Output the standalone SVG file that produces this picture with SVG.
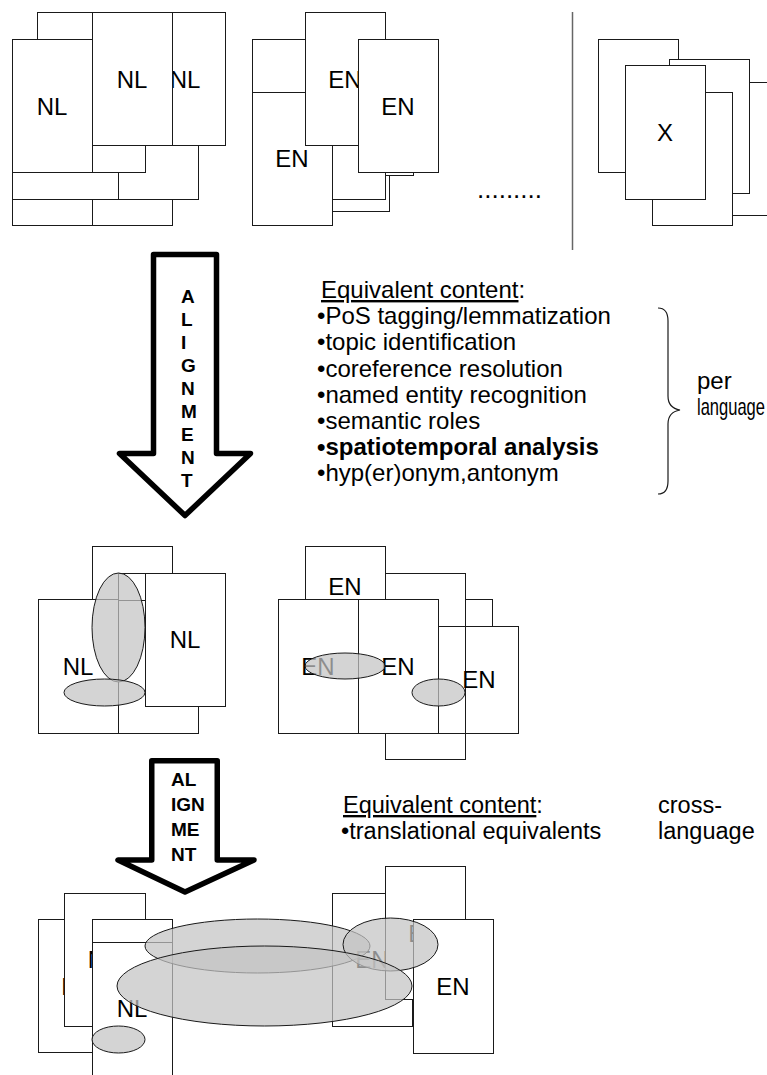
<svg xmlns="http://www.w3.org/2000/svg" width="767" height="1075" viewBox="0 0 767 1075">
<style>
.pg{fill:#fff;stroke:#1a1a1a;stroke-width:1}
.pn{fill:none;stroke:#1a1a1a;stroke-width:1}
.el{fill:#c4c4c4;fill-opacity:0.72;stroke:#1a1a1a;stroke-width:1}
.lb{font-family:"Liberation Sans",Arial,sans-serif;font-size:24px;text-anchor:middle;fill:#000}
.tx{font-family:"Liberation Sans",Arial,sans-serif;font-size:24px;fill:#000}
.ar{fill:#fff;stroke:#000;stroke-width:5.5;stroke-linejoin:round}
.al{font-family:"Liberation Sans",Arial,sans-serif;font-size:19px;font-weight:bold;fill:#000}
</style>
<rect width="767" height="1075" fill="#fff"/>

<g id="nl-stack-top">
<rect class="pg" x="12.5" y="92.5" width="80" height="133"/>
<rect class="pg" x="92.5" y="92.5" width="80" height="133"/>
<rect class="pg" x="12.5" y="66.5" width="106" height="133"/>
<rect class="pg" x="118.5" y="66.5" width="80" height="133"/>
<rect class="pg" x="37.5" y="12.5" width="80" height="133"/>
<rect class="pg" x="65.5" y="39.5" width="80" height="133"/>
<rect class="pg" x="145.5" y="12.5" width="80" height="133"/>
<text class="lb" x="185" y="88">NL</text>
<rect class="pg" x="12.5" y="39.5" width="80" height="133"/>
<text class="lb" x="52" y="115">NL</text>
<rect class="pg" x="92.5" y="12.5" width="80" height="133"/>
<text class="lb" x="132" y="88">NL</text>
</g>

<g id="en-stack-top">
<rect class="pg" x="309.5" y="78.5" width="80" height="133"/>
<rect class="pg" x="333.5" y="42.5" width="80" height="133"/>
<rect class="pg" x="305.5" y="66.5" width="80" height="133"/>
<rect class="pg" x="252.5" y="39.5" width="80" height="133"/>
<rect class="pg" x="252.5" y="92.5" width="80" height="133"/>
<text class="lb" x="292" y="167">EN</text>
<rect class="pg" x="305.5" y="12.5" width="80" height="133"/>
<text class="lb" x="345" y="88">EN</text>
<rect class="pg" x="358.5" y="39.5" width="80" height="133"/>
<text class="lb" x="398" y="115">EN</text>
</g>

<g id="ellipsis">
<text class="tx" x="477" y="198" style="font-size:26px">.........</text>
</g>

<g id="separator">
<line x1="572.5" y1="12" x2="572.5" y2="250" stroke="#666" stroke-width="1.5"/>
</g>

<g id="x-stack-top">
<rect class="pg" x="598.5" y="39.5" width="80" height="133"/>
<rect class="pg" x="709.5" y="82.5" width="80" height="133"/>
<rect class="pg" x="669.5" y="59.5" width="80" height="134"/>
<rect class="pg" x="652.5" y="92.5" width="80" height="133"/>
<rect class="pg" x="625.5" y="65.5" width="80" height="134"/>
<text class="lb" x="665" y="141">X</text>
</g>

<g id="arrow-1">
<path class="ar" d="M153.5,254.5 H216.5 V453.5 H250.5 L185,515.5 L119.5,453.5 H153.5 Z"/>
<text class="al" x="181" y="303">A</text>
<text class="al" x="181" y="326">L</text>
<text class="al" x="181" y="349">I</text>
<text class="al" x="181" y="372">G</text>
<text class="al" x="181" y="395">N</text>
<text class="al" x="181" y="418">M</text>
<text class="al" x="181" y="441">E</text>
<text class="al" x="181" y="464">N</text>
<text class="al" x="181" y="487">T</text>
</g>

<g id="content-per-language">
<text class="tx" x="321" y="298"><tspan style="text-decoration:underline">Equivalent content</tspan>:</text>
<text class="tx" x="317" y="324">•PoS tagging/lemmatization</text>
<text class="tx" x="317" y="350">•topic identification</text>
<text class="tx" x="317" y="377">•coreference resolution</text>
<text class="tx" x="317" y="403">•named entity recognition</text>
<text class="tx" x="317" y="429">•semantic roles</text>
<text class="tx" x="317" y="455" font-weight="bold">•spatiotemporal analysis</text>
<text class="tx" x="317" y="481">•hyp(er)onym,antonym</text>
<path d="M658,308 Q668,308 668,321 L668,396 Q668,408 680,410 Q668,412 668,424 L668,481 Q668,494 658,494" fill="none" stroke="#1a1a1a" stroke-width="1.2"/>
<text class="tx" x="697" y="389">per</text>
<text class="tx" x="697" y="415" textLength="68" lengthAdjust="spacingAndGlyphs">language</text>
</g>

<g id="nl-stack-mid">
<rect class="pg" x="92.5" y="546.5" width="80" height="133"/>
<rect class="pg" x="118.5" y="573.5" width="80" height="133"/>
<rect class="pg" x="118.5" y="600.5" width="80" height="133"/>
<rect class="pg" x="145.5" y="573.5" width="80" height="133"/>
<text class="lb" x="185" y="648">NL</text>
<rect class="pg" x="38.5" y="599.5" width="80" height="134"/>
<text class="lb" x="78" y="675">NL</text>
<ellipse class="el" cx="118.5" cy="627.5" rx="26.5" ry="54.5"/>
<ellipse class="el" cx="104.5" cy="692.5" rx="40.5" ry="13.5"/>
</g>

<g id="en-stack-mid">
<rect class="pg" x="305.5" y="546.5" width="80" height="133"/>
<text class="lb" x="345" y="595">EN</text>
<rect class="pg" x="412.5" y="599.5" width="80" height="27"/>
<rect class="pg" x="385.5" y="573.5" width="80" height="186"/>
<rect class="pn" x="438.5" y="626.5" width="80" height="107"/>
<text class="lb" x="479" y="688">EN</text>
<rect class="pg" x="278.5" y="599.5" width="80" height="134"/>
<text class="lb" x="318" y="675">EN</text>
<rect class="pg" x="358.5" y="599.5" width="80" height="134"/>
<text class="lb" x="398" y="675">EN</text>
<ellipse class="el" cx="345" cy="666" rx="40" ry="13"/>
<ellipse class="el" cx="438.5" cy="692.5" rx="26.5" ry="13.5"/>
</g>

<g id="arrow-2">
<path class="ar" d="M151.75,760.75 H217.25 V860 H254 L185,892 L118,860 H151.75 Z"/>
<text class="al" x="171" y="786">AL</text>
<text class="al" x="171" y="811">IGN</text>
<text class="al" x="171" y="836">ME</text>
<text class="al" x="171" y="861">NT</text>
</g>

<g id="content-cross-language">
<text class="tx" x="343" y="813" style="font-size:23.5px"><tspan style="text-decoration:underline">Equivalent content</tspan>:</text>
<text class="tx" x="341" y="839" style="font-size:23.5px">•translational equivalents</text>
<text class="tx" x="658" y="813" style="font-size:23.5px">cross-</text>
<text class="tx" x="658" y="839" style="font-size:23.5px">language</text>
</g>

<g id="nl-stack-bottom">
<rect class="pg" x="38.5" y="919.5" width="80" height="133"/>
<text class="lb" x="76.5" y="995">NL</text>
<rect class="pg" x="64.5" y="893.5" width="81" height="133"/>
<text class="lb" x="103" y="968">NL</text>
<rect class="pg" x="92.5" y="919.5" width="80" height="133"/>
<rect class="pg" x="92.5" y="942.5" width="80" height="133"/>
<text class="lb" x="132" y="1017">NL</text>
<ellipse class="el" cx="118.5" cy="1039.5" rx="26.5" ry="13.5"/>
</g>

<g id="en-stack-bottom">
<rect class="pg" x="332.5" y="893.5" width="80" height="133"/>
<text class="lb" x="372" y="968">EN</text>
<rect class="pg" x="385.5" y="866.5" width="80" height="133"/>
<text class="lb" x="425" y="942">EN</text>
<rect class="pg" x="413.5" y="919.5" width="80" height="134"/>
<text class="lb" x="453" y="995">EN</text>
</g>

<g id="cross-alignments">
<ellipse class="el" cx="257.5" cy="946" rx="112.5" ry="27"/>
<ellipse class="el" cx="390.5" cy="944.5" rx="47.5" ry="26.5"/>
<ellipse class="el" cx="264.5" cy="986" rx="147.5" ry="40"/>
</g>
</svg>
